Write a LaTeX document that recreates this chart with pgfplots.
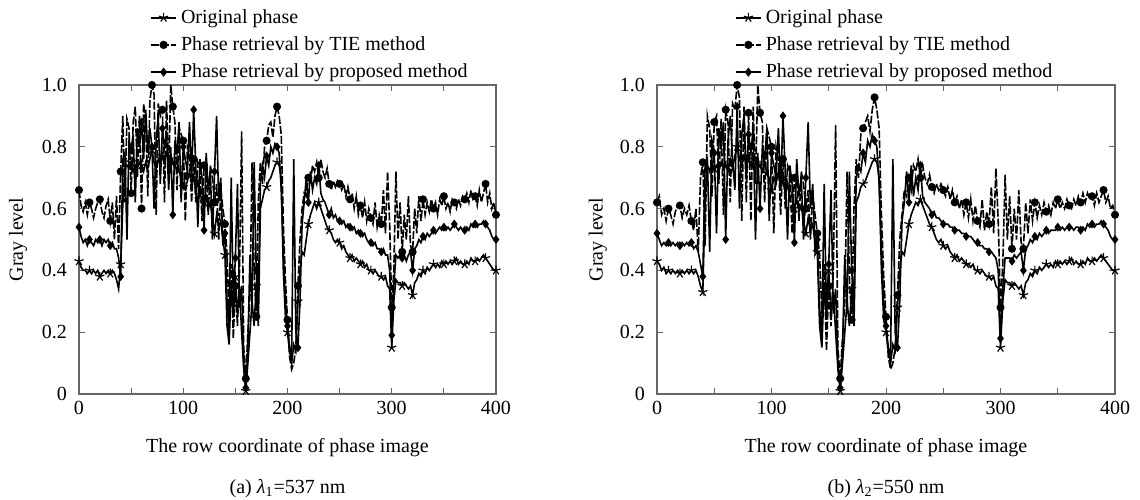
\documentclass[border=0pt]{standalone}
\usepackage{fontspec}
\setmainfont{Liberation Serif}
\usepackage{pgfplots}
\pgfplotsset{compat=1.18}
\usepackage{pgfplotstable}

\pgfplotstableread{
x o t p
0 0.43 0.66 0.54
2 0.41 0.61 0.51
4 0.40 0.59 0.49
6 0.40 0.62 0.50
8 0.39 0.58 0.48
10 0.40 0.62 0.50
12 0.39 0.60 0.49
14 0.40 0.57 0.48
16 0.39 0.60 0.50
18 0.40 0.62 0.49
20 0.38 0.63 0.50
22 0.39 0.59 0.48
24 0.40 0.57 0.50
26 0.39 0.61 0.49
28 0.40 0.63 0.50
30 0.39 0.56 0.48
32 0.40 0.62 0.49
34 0.39 0.50 0.47
36 0.37 0.64 0.47
38 0.34 0.47 0.44
40 0.42 0.72 0.38
42 0.61 0.90 0.76
44 0.73 0.62 0.78
46 0.74 0.89 0.50
48 0.73 0.86 0.82
50 0.75 0.65 0.79
52 0.72 0.88 0.84
54 0.74 0.93 0.62
56 0.73 0.70 0.86
58 0.75 0.90 0.80
60 0.74 0.60 0.88
62 0.72 0.94 0.76
64 0.75 0.88 0.92
66 0.73 0.64 0.78
68 0.76 0.95 0.86
70 0.79 1.00 0.80
72 0.75 0.97 0.60
74 0.73 0.58 0.82
76 0.76 0.94 0.90
78 0.74 0.90 0.68
80 0.77 0.92 0.86
82 0.75 0.62 0.80
84 0.78 0.95 0.84
86 0.76 0.70 0.66
88 0.74 1.00 0.80
90 0.75 0.93 0.58
92 0.73 0.88 0.82
94 0.76 0.66 0.78
96 0.72 0.86 0.88
98 0.70 0.84 0.62
100 0.67 0.82 0.80
102 0.71 0.56 0.76
104 0.69 0.80 0.72
106 0.72 0.78 0.88
108 0.68 0.62 0.70
110 0.70 0.76 0.92
112 0.66 0.62 0.74
114 0.69 0.75 0.54
116 0.64 0.73 0.76
118 0.66 0.56 0.70
120 0.62 0.74 0.53
122 0.64 0.72 0.78
124 0.60 0.58 0.66
126 0.62 0.74 0.72
128 0.57 0.70 0.50
130 0.52 0.62 0.72
132 0.58 0.68 0.90
134 0.54 0.50 0.62
136 0.56 0.66 0.70
138 0.50 0.60 0.48
140 0.45 0.55 0.52
142 0.22 0.45 0.30
144 0.16 0.26 0.20
146 0.35 0.42 0.70
148 0.25 0.18 0.30
150 0.38 0.35 0.44
152 0.26 0.22 0.68
154 0.34 0.40 0.28
156 0.20 0.85 0.35
158 0.08 0.15 0.10
160 0.01 0.05 0.02
162 0.10 0.20 0.15
164 0.20 0.32 0.45
166 0.30 0.75 0.28
168 0.22 0.40 0.75
170 0.35 0.25 0.40
172 0.22 0.62 0.30
174 0.60 0.75 0.68
176 0.63 0.68 0.74
178 0.66 0.80 0.70
180 0.67 0.82 0.77
182 0.69 0.87 0.74
184 0.70 0.88 0.80
186 0.72 0.83 0.78
188 0.74 0.90 0.81
190 0.75 0.93 0.80
192 0.74 0.90 0.78
194 0.70 0.84 0.66
196 0.40 0.55 0.45
198 0.25 0.37 0.30
200 0.20 0.24 0.22
202 0.14 0.12 0.15
204 0.10 0.08 0.12
206 0.16 0.10 0.76
208 0.14 0.15 0.20
210 0.30 0.35 0.15
212 0.40 0.50 0.30
214 0.46 0.60 0.55
216 0.45 0.65 0.62
218 0.50 0.64 0.70
220 0.55 0.70 0.62
222 0.58 0.68 0.72
224 0.60 0.74 0.66
226 0.62 0.72 0.70
228 0.60 0.75 0.68
230 0.62 0.70 0.74
232 0.60 0.76 0.65
234 0.58 0.72 0.63
236 0.56 0.70 0.62
238 0.54 0.73 0.60
240 0.53 0.68 0.58
242 0.52 0.66 0.60
244 0.50 0.69 0.57
246 0.49 0.67 0.58
248 0.50 0.69 0.56
250 0.49 0.68 0.56
252 0.47 0.66 0.55
254 0.48 0.68 0.56
256 0.46 0.64 0.54
258 0.45 0.67 0.55
260 0.44 0.63 0.54
262 0.45 0.65 0.53
264 0.43 0.60 0.54
266 0.44 0.64 0.52
268 0.43 0.58 0.53
270 0.42 0.61 0.52
272 0.43 0.57 0.51
274 0.41 0.62 0.52
276 0.42 0.56 0.50
278 0.40 0.60 0.49
280 0.40 0.57 0.49
282 0.39 0.55 0.48
284 0.40 0.62 0.49
286 0.39 0.54 0.47
288 0.38 0.58 0.47
290 0.38 0.55 0.46
292 0.37 0.66 0.47
294 0.38 0.52 0.45
296 0.35 0.72 0.45
298 0.34 0.55 0.40
300 0.15 0.28 0.19
302 0.30 0.40 0.35
304 0.37 0.72 0.45
306 0.36 0.50 0.44
308 0.36 0.62 0.45
310 0.35 0.46 0.44
312 0.36 0.58 0.45
314 0.35 0.50 0.43
316 0.34 0.64 0.45
318 0.35 0.48 0.46
320 0.32 0.46 0.40
322 0.36 0.60 0.47
324 0.37 0.52 0.48
326 0.39 0.64 0.50
328 0.38 0.56 0.49
330 0.40 0.63 0.51
332 0.39 0.58 0.50
334 0.41 0.62 0.52
336 0.40 0.59 0.51
338 0.41 0.63 0.52
340 0.42 0.60 0.53
342 0.41 0.62 0.52
344 0.42 0.58 0.53
346 0.41 0.63 0.54
348 0.43 0.61 0.53
350 0.42 0.64 0.54
352 0.43 0.60 0.53
354 0.42 0.62 0.54
356 0.43 0.59 0.53
358 0.42 0.63 0.54
360 0.43 0.62 0.55
362 0.44 0.60 0.54
364 0.42 0.63 0.53
366 0.43 0.61 0.54
368 0.42 0.64 0.53
370 0.42 0.63 0.53
372 0.43 0.65 0.54
374 0.42 0.62 0.53
376 0.44 0.66 0.55
378 0.43 0.63 0.54
380 0.43 0.64 0.55
382 0.44 0.61 0.54
384 0.43 0.66 0.55
386 0.44 0.62 0.55
388 0.45 0.65 0.56
390 0.44 0.68 0.55
392 0.43 0.62 0.54
394 0.42 0.65 0.53
396 0.41 0.60 0.51
398 0.40 0.62 0.50
400 0.40 0.58 0.50
}\dataA

\pgfplotstableread{
x o t p
0 0.43 0.62 0.52
2 0.42 0.64 0.50
4 0.40 0.58 0.48
6 0.41 0.60 0.49
8 0.39 0.56 0.48
10 0.40 0.60 0.49
12 0.39 0.58 0.48
14 0.40 0.55 0.49
16 0.39 0.59 0.48
18 0.40 0.61 0.49
20 0.39 0.61 0.48
22 0.40 0.57 0.49
24 0.39 0.60 0.48
26 0.40 0.58 0.49
28 0.39 0.61 0.48
30 0.40 0.56 0.49
32 0.39 0.53 0.47
34 0.40 0.60 0.48
36 0.38 0.46 0.46
38 0.35 0.70 0.42
40 0.33 0.75 0.38
42 0.62 0.48 0.74
44 0.74 0.90 0.76
46 0.72 0.86 0.46
48 0.75 0.64 0.82
50 0.73 0.88 0.78
52 0.74 0.90 0.52
54 0.72 0.68 0.86
56 0.75 0.89 0.80
58 0.73 0.58 0.88
60 0.74 0.92 0.50
62 0.72 0.88 0.82
64 0.76 0.62 0.90
66 0.73 0.94 0.76
68 0.77 0.92 0.66
70 0.80 1.00 0.93
72 0.76 0.96 0.60
74 0.74 0.56 0.84
76 0.77 0.93 0.90
78 0.74 0.62 0.70
80 0.76 0.91 0.84
82 0.74 0.56 0.78
84 0.77 0.93 0.86
86 0.75 0.68 0.50
88 0.73 1.00 0.78
90 0.74 0.91 0.60
92 0.72 0.88 0.80
94 0.75 0.62 0.76
96 0.71 0.86 0.86
98 0.70 0.83 0.56
100 0.66 0.80 0.78
102 0.70 0.52 0.74
104 0.68 0.80 0.70
106 0.72 0.76 0.86
108 0.67 0.58 0.66
110 0.70 0.76 0.90
112 0.65 0.60 0.72
114 0.68 0.74 0.50
116 0.63 0.72 0.74
118 0.65 0.52 0.68
120 0.60 0.70 0.49
122 0.63 0.72 0.76
124 0.59 0.56 0.64
126 0.61 0.72 0.70
128 0.56 0.68 0.50
130 0.52 0.60 0.70
132 0.57 0.66 0.88
134 0.53 0.50 0.60
136 0.55 0.65 0.68
138 0.49 0.58 0.46
140 0.46 0.52 0.50
142 0.22 0.45 0.28
144 0.15 0.26 0.18
146 0.36 0.42 0.68
148 0.24 0.14 0.26
150 0.40 0.35 0.42
152 0.26 0.22 0.66
154 0.33 0.40 0.26
156 0.20 0.87 0.34
158 0.08 0.15 0.10
160 0.01 0.05 0.02
162 0.10 0.18 0.14
164 0.20 0.30 0.45
166 0.30 0.72 0.26
168 0.22 0.38 0.72
170 0.34 0.24 0.40
172 0.22 0.60 0.30
174 0.62 0.76 0.70
176 0.64 0.70 0.74
178 0.67 0.84 0.72
180 0.68 0.86 0.78
182 0.69 0.88 0.75
184 0.71 0.90 0.82
186 0.73 0.85 0.80
188 0.75 0.92 0.84
190 0.76 0.96 0.82
192 0.75 0.92 0.80
194 0.70 0.86 0.68
196 0.40 0.58 0.46
198 0.24 0.38 0.30
200 0.20 0.25 0.22
202 0.14 0.12 0.15
204 0.10 0.08 0.12
206 0.16 0.10 0.76
208 0.14 0.15 0.20
210 0.28 0.32 0.15
212 0.40 0.50 0.30
214 0.46 0.58 0.56
216 0.45 0.66 0.62
218 0.50 0.64 0.72
220 0.55 0.70 0.62
222 0.58 0.66 0.74
224 0.60 0.74 0.64
226 0.62 0.72 0.70
228 0.61 0.76 0.66
230 0.63 0.70 0.74
232 0.61 0.74 0.64
234 0.59 0.70 0.62
236 0.57 0.68 0.61
238 0.55 0.71 0.60
240 0.54 0.67 0.58
242 0.52 0.65 0.59
244 0.50 0.68 0.57
246 0.49 0.66 0.57
248 0.50 0.68 0.56
250 0.48 0.66 0.55
252 0.47 0.64 0.55
254 0.48 0.67 0.55
256 0.46 0.63 0.54
258 0.45 0.66 0.54
260 0.44 0.62 0.53
262 0.45 0.64 0.53
264 0.43 0.60 0.53
266 0.44 0.63 0.52
268 0.43 0.58 0.52
270 0.42 0.62 0.51
272 0.42 0.57 0.51
274 0.41 0.63 0.51
276 0.42 0.56 0.50
278 0.40 0.61 0.49
280 0.40 0.56 0.49
282 0.39 0.54 0.48
284 0.40 0.63 0.48
286 0.39 0.53 0.47
288 0.38 0.59 0.47
290 0.38 0.55 0.46
292 0.37 0.67 0.46
294 0.38 0.52 0.45
296 0.35 0.73 0.44
298 0.34 0.56 0.40
300 0.15 0.28 0.18
302 0.30 0.42 0.34
304 0.37 0.71 0.44
306 0.36 0.50 0.44
308 0.36 0.64 0.44
310 0.35 0.47 0.43
312 0.36 0.60 0.45
314 0.35 0.50 0.44
316 0.34 0.66 0.45
318 0.35 0.49 0.46
320 0.32 0.47 0.40
322 0.36 0.62 0.47
324 0.37 0.52 0.48
326 0.39 0.63 0.50
328 0.38 0.56 0.49
330 0.40 0.62 0.51
332 0.39 0.57 0.50
334 0.41 0.61 0.52
336 0.40 0.58 0.51
338 0.41 0.62 0.52
340 0.42 0.59 0.53
342 0.41 0.61 0.52
344 0.42 0.58 0.53
346 0.41 0.62 0.53
348 0.43 0.60 0.53
350 0.42 0.63 0.54
352 0.43 0.60 0.53
354 0.42 0.62 0.54
356 0.43 0.60 0.53
358 0.42 0.63 0.54
360 0.43 0.61 0.54
362 0.44 0.60 0.54
364 0.42 0.63 0.53
366 0.43 0.61 0.54
368 0.42 0.64 0.54
370 0.42 0.62 0.53
372 0.43 0.65 0.54
374 0.42 0.62 0.53
376 0.44 0.65 0.55
378 0.43 0.63 0.54
380 0.43 0.64 0.55
382 0.44 0.61 0.54
384 0.43 0.65 0.55
386 0.44 0.62 0.55
388 0.45 0.64 0.56
390 0.44 0.66 0.55
392 0.43 0.62 0.54
394 0.42 0.64 0.53
396 0.41 0.60 0.51
398 0.40 0.61 0.50
400 0.40 0.58 0.50
}\dataB

\pgfplotsset{
  myaxis/.style={
    scale only axis, height=154.5pt,
    xmin=0, xmax=400, ymin=0, ymax=1,
    xtick={0,50,...,400}, xticklabels={0,,100,,200,,300,,400},
    ytick={0,0.2,0.4,0.6,0.8,1.0}, yticklabels={0,0.2,0.4,0.6,0.8,1.0},
    /pgf/number format/assume math mode=true,
    tick align=inside, major tick length=3pt,
    axis line style={draw=black!60, line width=0.7pt},
    every tick/.append style={black!60, line width=0.5pt},
    tick label style={font=\fontsize{10}{12}\selectfont},
    yticklabel style={xshift=-2.5pt},
    label style={font=\fontsize{10}{12}\selectfont},
    legend style={draw=none, fill=none, at={(axis description cs:0.165,1.0)}, anchor=south west, yshift=-1pt,
      font=\fontsize{10}{12}\selectfont, row sep=1.2pt, inner sep=1pt, cells={anchor=west}},
    legend image code/.code={\draw[mark repeat=2,mark phase=2,line width=0.9pt,##1] plot coordinates {(0pt,0pt)(6.25pt,0pt)(12.5pt,0pt)};},
    xlabel={The row coordinate of phase image},
    ylabel={Gray level},
    every axis x label/.style={at={(axis description cs:0.5,-0.175)}, anchor=center},
  },
  sorig/.style={black, line width=0.8pt, mark=star, mark size=2.4pt, mark repeat=5, mark options={solid, line width=0.6pt}},
  stie/.style={black, line width=0.8pt, dash pattern=on 4pt off 1pt, mark=*, mark size=1.6pt, mark repeat=5, mark options={solid}},
  sprop/.style={black, line width=0.8pt, mark=diamond*, mark size=1.6pt, mark repeat=5, mark options={solid}},
}

\begin{document}
\begin{tikzpicture}
\useasboundingbox (-39.5pt,-52.5pt) rectangle (530.5pt,197pt);
\begin{axis}[myaxis, width=208.5pt, at={(0pt,0pt)}, anchor=south west, name=a,
  every axis y label/.style={at={(axis description cs:-0.146,0.5)}, rotate=90, anchor=center}]
\addplot[sorig] table[x=x, y=o] {\dataA};
\addlegendentry{Original phase}
\addplot[stie] table[x=x, y=t] {\dataA};
\addlegendentry{Phase retrieval by TIE method}
\addplot[sprop] table[x=x, y=p] {\dataA};
\addlegendentry{Phase retrieval by proposed method}
\end{axis}
\begin{axis}[myaxis, width=229pt, at={(289pt,0pt)}, anchor=south west, name=b,
  every axis y label/.style={at={(axis description cs:-0.129,0.5)}, rotate=90, anchor=center}]
\addplot[sorig] table[x=x, y=o] {\dataB};
\addlegendentry{Original phase}
\addplot[stie] table[x=x, y=t] {\dataB};
\addlegendentry{Phase retrieval by TIE method}
\addplot[sprop] table[x=x, y=p] {\dataB};
\addlegendentry{Phase retrieval by proposed method}
\end{axis}
\node[font=\fontsize{10}{12}\selectfont] at ([yshift=-47.5pt]a.south) {(a) {\itshape λ}\textsubscript{1}=537 nm};
\node[font=\fontsize{10}{12}\selectfont] at ([yshift=-47.5pt]b.south) {(b) {\itshape λ}\textsubscript{2}=550 nm};
\end{tikzpicture}
\end{document}
